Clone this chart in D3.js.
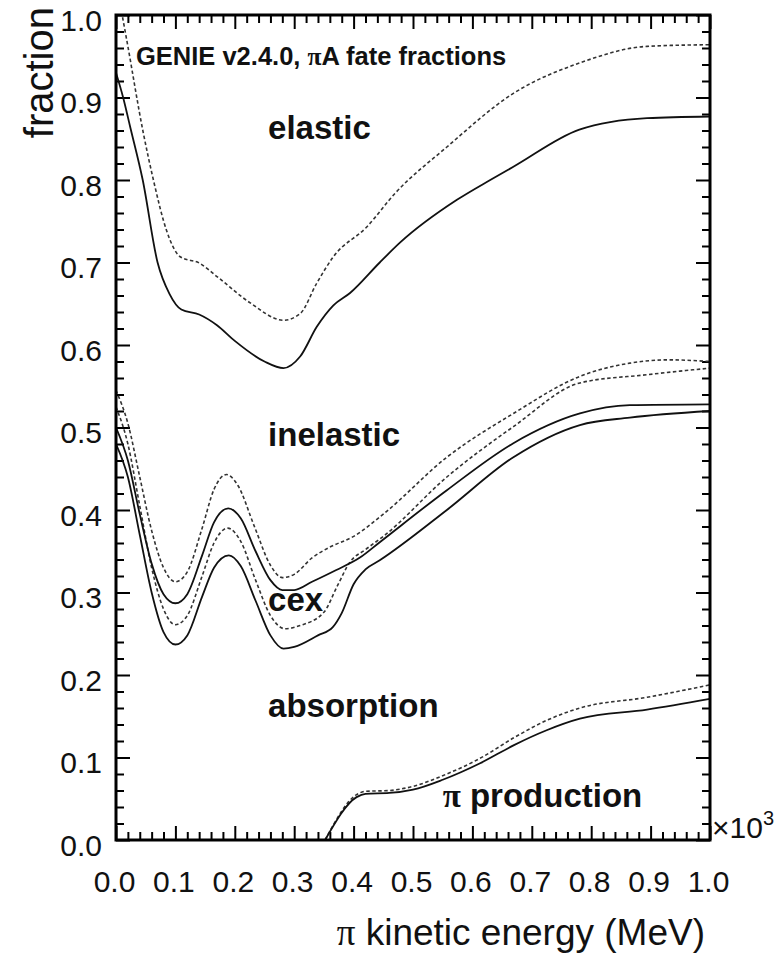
<!DOCTYPE html>
<html><head><meta charset="utf-8">
<script src="https://cdn.jsdelivr.net/npm/d3@7/dist/d3.min.js"></script>
<style>
body{margin:0;background:#fff;}
text{font-family:"Liberation Sans",Arial,Helvetica,sans-serif;fill:#111;}
</style>
</head><body>
<svg id="chart" width="783" height="953"></svg>
<script>
// ---- data ----
const xMajorTicks = [0,0.1,0.2,0.3,0.4,0.5,0.6,0.7,0.8,0.9,1.0];
const xTickLabels = ["0.0","0.1","0.2","0.3","0.4","0.5","0.6","0.7","0.8","0.9","1.0"];
const yMajorTicks = [0,0.1,0.2,0.3,0.4,0.5,0.6,0.7,0.8,0.9,1.0];
const yTickLabels = ["0.0","0.1","0.2","0.3","0.4","0.5","0.6","0.7","0.8","0.9","1.0"];
const minorStep = 0.02;

const elasticSolid = [[0,0.93],[0.012,0.90],[0.024,0.864],[0.045,0.80],[0.07,0.70],[0.09,0.662],[0.11,0.643],[0.14,0.637],[0.17,0.624],[0.2,0.605],[0.25,0.58],[0.282,0.572],[0.31,0.586],[0.338,0.622],[0.366,0.648],[0.394,0.663],[0.444,0.70],[0.478,0.724],[0.574,0.776],[0.63,0.80],[0.669,0.816],[0.78,0.861],[0.894,0.875],[1.0,0.877]];
const elasticDashed = [[0,1.04],[0.018,0.97],[0.046,0.857],[0.063,0.80],[0.085,0.739],[0.108,0.707],[0.141,0.699],[0.17,0.683],[0.226,0.651],[0.282,0.630],[0.31,0.638],[0.338,0.675],[0.366,0.707],[0.422,0.743],[0.47,0.784],[0.557,0.84],[0.669,0.905],[0.781,0.942],[0.894,0.962],[1.0,0.964]];
const inelasticDashed = [[0,0.545],[0.02,0.505],[0.04,0.44],[0.06,0.375],[0.08,0.33],[0.1,0.313],[0.12,0.325],[0.145,0.378],[0.165,0.425],[0.186,0.443],[0.205,0.43],[0.233,0.38],[0.26,0.333],[0.28,0.318],[0.3,0.322],[0.33,0.342],[0.36,0.355],[0.4,0.368],[0.45,0.395],[0.557,0.464],[0.669,0.517],[0.781,0.562],[0.865,0.578],[0.93,0.582],[1.0,0.58]];
const cexDashed = [[0,0.525],[0.02,0.48],[0.04,0.405],[0.06,0.33],[0.08,0.28],[0.1,0.261],[0.12,0.272],[0.145,0.32],[0.165,0.36],[0.188,0.378],[0.21,0.362],[0.235,0.315],[0.26,0.272],[0.285,0.256],[0.31,0.26],[0.35,0.276],[0.372,0.307],[0.394,0.337],[0.42,0.352],[0.45,0.368],[0.557,0.44],[0.669,0.501],[0.781,0.554],[0.894,0.564],[1.0,0.572]];
const inelasticSolid = [[0,0.50],[0.02,0.46],[0.04,0.395],[0.06,0.335],[0.08,0.298],[0.1,0.287],[0.12,0.298],[0.145,0.345],[0.165,0.385],[0.189,0.402],[0.21,0.39],[0.235,0.35],[0.26,0.315],[0.28,0.303],[0.3,0.303],[0.33,0.313],[0.37,0.327],[0.41,0.342],[0.444,0.361],[0.557,0.424],[0.669,0.481],[0.781,0.517],[0.865,0.527],[1.0,0.528]];
const cexSolid = [[0,0.48],[0.02,0.44],[0.04,0.37],[0.06,0.30],[0.08,0.252],[0.1,0.237],[0.12,0.248],[0.145,0.295],[0.165,0.33],[0.19,0.345],[0.21,0.332],[0.235,0.29],[0.26,0.248],[0.282,0.232],[0.3,0.234],[0.34,0.248],[0.365,0.258],[0.38,0.275],[0.40,0.31],[0.42,0.328],[0.444,0.339],[0.557,0.40],[0.669,0.464],[0.781,0.503],[0.865,0.512],[1.0,0.52]];
const piProdSolid = [[0.352,0],[0.405,0.052],[0.42,0.056],[0.46,0.057],[0.5,0.061],[0.55,0.073],[0.613,0.093],[0.67,0.115],[0.725,0.133],[0.781,0.147],[0.894,0.158],[1.0,0.171]];
const piProdDashed = [[0.352,0],[0.405,0.055],[0.42,0.059],[0.46,0.06],[0.5,0.065],[0.55,0.078],[0.613,0.099],[0.67,0.124],[0.725,0.145],[0.781,0.16],[0.894,0.173],[1.0,0.188]];

const regionLabels = [
  {text:"elastic", x:0.256, y:0.85},
  {text:"inelastic", x:0.256, y:0.478},
  {text:"cex", x:0.256, y:0.278},
  {text:"absorption", x:0.256, y:0.149}
];

// ---- layout ----
const W = 783, H = 953;
const m = {left:116, top:15, right:73, bottom:113};
const pw = W - m.left - m.right, ph = H - m.top - m.bottom;
const svg = d3.select("#chart");
const x = d3.scaleLinear().domain([0,1]).range([m.left, m.left+pw]);
const y = d3.scaleLinear().domain([0,1]).range([m.top+ph, m.top]);

const minors = d3.range(0, 1.0001, minorStep).filter(v => Math.abs(v*10 - Math.round(v*10)) > 1e-6);

svg.append("clipPath").attr("id","clip").append("rect")
  .attr("x", m.left).attr("y", m.top).attr("width", pw).attr("height", ph);

function styleAxis(g){ g.select(".domain").remove(); g.selectAll(".tick line").attr("stroke","#000").attr("stroke-width",2); }
const majorLen = 14, minorLen = 8;
svg.append("g").attr("class","ax").attr("transform",`translate(0,${m.top+ph})`)
  .call(d3.axisBottom(x).tickValues(minors).tickSize(-minorLen).tickFormat(()=>"")).call(styleAxis);
svg.append("g").attr("class","ax").attr("transform",`translate(0,${m.top+ph})`)
  .call(d3.axisBottom(x).tickValues(xMajorTicks).tickSize(-majorLen).tickPadding(31).tickFormat((d,i)=>xTickLabels[i]))
  .call(styleAxis)
  .call(g=>g.selectAll("text").attr("font-size",30).attr("fill","#111").attr("dx",-2).style("font-family","'Liberation Sans',Arial,sans-serif"));
svg.append("g").attr("class","ax").attr("transform",`translate(0,${m.top})`)
  .call(d3.axisTop(x).tickValues(minors).tickSize(-minorLen).tickFormat(()=>"")).call(styleAxis);
svg.append("g").attr("class","ax").attr("transform",`translate(0,${m.top})`)
  .call(d3.axisTop(x).tickValues(xMajorTicks).tickSize(-majorLen).tickFormat(()=>"")).call(styleAxis);
svg.append("g").attr("class","ax").attr("transform",`translate(${m.left},0)`)
  .call(d3.axisLeft(y).tickValues(minors).tickSize(-minorLen).tickFormat(()=>"")).call(styleAxis);
svg.append("g").attr("class","ax").attr("transform",`translate(${m.left},0)`)
  .call(d3.axisLeft(y).tickValues(yMajorTicks).tickSize(-majorLen).tickPadding(14).tickFormat((d,i)=>yTickLabels[i]))
  .call(styleAxis)
  .call(g=>g.selectAll("text").attr("font-size",30).attr("fill","#111").attr("dy","0.5em").style("font-family","'Liberation Sans',Arial,sans-serif"));
svg.append("g").attr("class","ax").attr("transform",`translate(${m.left+pw},0)`)
  .call(d3.axisRight(y).tickValues(minors).tickSize(-minorLen).tickFormat(()=>"")).call(styleAxis);
svg.append("g").attr("class","ax").attr("transform",`translate(${m.left+pw},0)`)
  .call(d3.axisRight(y).tickValues(yMajorTicks).tickSize(-majorLen).tickFormat(()=>"")).call(styleAxis);

// curves
const line = d3.line().x(d=>x(d[0])).y(d=>y(d[1])).curve(d3.curveMonotoneX);
const series = [
  {data:elasticSolid, dash:null},
  {data:elasticDashed, dash:"3.5,2.5"},
  {data:inelasticDashed, dash:"3.5,2.5"},
  {data:cexDashed, dash:"3.5,2.5"},
  {data:inelasticSolid, dash:null},
  {data:cexSolid, dash:null},
  {data:piProdDashed, dash:"3.5,2.5"},
  {data:piProdSolid, dash:null}
];
const gl = svg.append("g").attr("clip-path","url(#clip)");
series.forEach(s=>{
  gl.append("path").attr("d", line(s.data)).attr("fill","none")
    .attr("stroke", s.dash ? "#333" : "#111")
    .attr("stroke-width", s.dash ? 1.6 : 1.8)
    .attr("stroke-dasharray", s.dash);
});

// frame
svg.append("rect").attr("x",m.left).attr("y",m.top).attr("width",pw).attr("height",ph)
  .attr("fill","none").attr("stroke","#000").attr("stroke-width",3);

// title
const t = svg.append("text").attr("x", 136).attr("y", 65).attr("font-size",25.5).attr("font-weight","bold");
t.append("tspan").text("GENIE v2.4.0, ");
t.append("tspan").style("font-family","'Liberation Serif',serif").text("π");
t.append("tspan").text("A fate fractions");

regionLabels.forEach(l=>{
  svg.append("text").attr("x", x(l.x)).attr("y", y(l.y)).attr("font-size",33).attr("font-weight","bold").text(l.text);
});
const pp = svg.append("text").attr("x", x(0.55)).attr("y", y(0.040)).attr("font-size",33).attr("font-weight","bold");
pp.append("tspan").style("font-family","'Liberation Serif',serif").text("π");
pp.append("tspan").text(" production");

const xt = svg.append("text").attr("x", 705).attr("y", 945).attr("text-anchor","end").attr("font-size",37);
xt.append("tspan").style("font-family","'Liberation Serif',serif").text("π");
xt.append("tspan").text(" kinetic energy (MeV)");
svg.append("text").attr("transform","translate(53,7) rotate(-90)").attr("text-anchor","end").attr("font-size",40).text("fraction");

const xs = svg.append("text").attr("x", 712).attr("y", 838).attr("font-size",30);
xs.append("tspan").text("×10");
xs.append("tspan").attr("font-size",20).attr("dy",-13).text("3");
</script>
</body></html>
